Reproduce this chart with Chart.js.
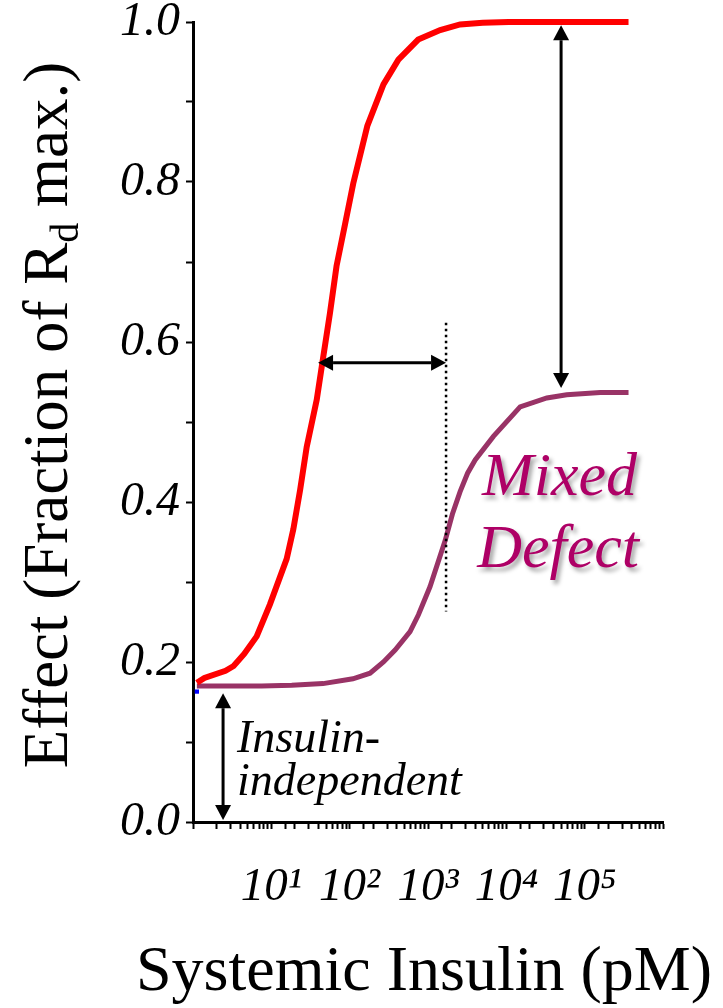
<!DOCTYPE html>
<html lang="en">
<head>
  <meta charset="UTF-8">
  <title>Insulin dose response - mixed defect</title>
  <script src="https://cdn.jsdelivr.net/npm/chart.js"></script>
  <style>
    html, body { margin: 0; padding: 0; background: #fff; }
  </style>
</head>
<body>
  <canvas id="doseChart" width="723" height="1008"></canvas>
  <script>
    // normal insulin action (red)
    const normalInsulin = [1.12, 1.4, 2.6, 3.3, 4.5, 6.5, 9.6, 15.7, 19.1, 23.3, 28.3, 38, 44, 56, 68, 88, 111, 168, 270, 419, 750, 1430, 2570, 5000, 10700, 25000, 60000, 150000, 363000];
    const normalEffect = [0.174, 0.18, 0.189, 0.195, 0.21, 0.232, 0.272, 0.329, 0.366, 0.415, 0.469, 0.528, 0.569, 0.636, 0.695, 0.749, 0.798, 0.87, 0.922, 0.953, 0.978, 0.99, 0.997, 0.999, 1.0, 1.0, 1.0, 1.0, 1.0];

    // mixed defect (purple)
    const mixedInsulin = [1.12, 2.97, 7.5, 18.2, 45.7, 110, 182, 270, 380, 590, 755, 1060, 1660, 2050, 2570, 3200, 4000, 6840, 15000, 32900, 59000, 158000, 363000];
    const mixedEffect = [0.170, 0.170, 0.170, 0.171, 0.173, 0.179, 0.186, 0.200, 0.215, 0.238, 0.259, 0.294, 0.352, 0.385, 0.413, 0.436, 0.4525, 0.482, 0.519, 0.530, 0.534, 0.537, 0.537];

    // small blue marker at the start
    const blueInsulin = [1.12];
    const blueEffect = [0.163];

    const xTickValues = [10, 100, 1000, 10000, 100000];
    const xTickLabels = ['10¹', '10²', '10³', '10⁴', '10⁵'];

    // annotations, in data units
    const shiftArrow = { y: 0.574, x1: 39.5, x2: 1700 };
    const dottedLine = { x: 1700, y1: 0.263, y2: 0.624 };
    const maxArrow = { x: 50000, y1: 0.5425, y2: 0.996 };
    const basalArrow = { x: 2.42, y1: 0.0025, y2: 0.161 };
    const basalText = [
      { text: 'Insulin-', x: 3.65, y: 0.0875 },
      { text: 'independent', x: 3.65, y: 0.034 }
    ];
    const defectText = [
      { text: 'Mixed', x: 4900, y: 0.409 },
      { text: 'Defect', x: 4240, y: 0.319 }
    ];

    const toPoints = (xs, ys) => xs.map((v, i) => ({ x: v, y: ys[i] }));

    function arrowHead(ctx, tipX, tipY, ux, uy, len, half) {
      const bx = tipX - ux * len, by = tipY - uy * len;
      ctx.beginPath();
      ctx.moveTo(tipX, tipY);
      ctx.lineTo(bx - uy * half, by + ux * half);
      ctx.lineTo(bx + uy * half, by - ux * half);
      ctx.closePath();
      ctx.fill();
    }

    function doubleArrow(ctx, x1, y1, x2, y2) {
      const d = Math.hypot(x2 - x1, y2 - y1);
      const ux = (x2 - x1) / d, uy = (y2 - y1) / d;
      const len = 15, half = 8;
      ctx.beginPath();
      ctx.moveTo(x1 + ux * len, y1 + uy * len);
      ctx.lineTo(x2 - ux * len, y2 - uy * len);
      ctx.stroke();
      arrowHead(ctx, x2, y2, ux, uy, len, half);
      arrowHead(ctx, x1, y1, -ux, -uy, len, half);
    }

    const annotations = {
      id: 'annotations',
      afterDraw(chart) {
        const { ctx, chartArea, scales: { x, y } } = chart;
        ctx.save();
        ctx.strokeStyle = '#000';
        ctx.fillStyle = '#000';
        ctx.lineWidth = 3;

        doubleArrow(ctx, x.getPixelForValue(shiftArrow.x1), y.getPixelForValue(shiftArrow.y),
          x.getPixelForValue(shiftArrow.x2), y.getPixelForValue(shiftArrow.y));
        doubleArrow(ctx, x.getPixelForValue(maxArrow.x), y.getPixelForValue(maxArrow.y1),
          x.getPixelForValue(maxArrow.x), y.getPixelForValue(maxArrow.y2));
        doubleArrow(ctx, x.getPixelForValue(basalArrow.x), y.getPixelForValue(basalArrow.y1),
          x.getPixelForValue(basalArrow.x), y.getPixelForValue(basalArrow.y2));

        // dotted line
        ctx.save();
        ctx.lineWidth = 2.5;
        ctx.setLineDash([2.5, 3.5]);
        const dx = x.getPixelForValue(dottedLine.x);
        ctx.beginPath();
        ctx.moveTo(dx, y.getPixelForValue(dottedLine.y2));
        ctx.lineTo(dx, y.getPixelForValue(dottedLine.y1));
        ctx.stroke();
        ctx.restore();

        // insulin-independent label
        ctx.font = 'italic 46px "Liberation Serif"';
        ctx.textAlign = 'left';
        ctx.textBaseline = 'alphabetic';
        basalText.forEach(t => ctx.fillText(t.text, x.getPixelForValue(t.x), y.getPixelForValue(t.y)));

        // mixed defect label
        ctx.save();
        ctx.font = 'italic 62px "Liberation Serif"';
        ctx.fillStyle = '#AE0066';
        ctx.shadowColor = 'rgba(0,0,0,0.35)';
        ctx.shadowOffsetX = 3;
        ctx.shadowOffsetY = 4;
        ctx.shadowBlur = 4;
        defectText.forEach(t => ctx.fillText(t.text, x.getPixelForValue(t.x), y.getPixelForValue(t.y)));
        ctx.restore();

        // x axis title (drawn here so it is not squeezed to the axis width)
        ctx.font = '64px "Liberation Serif"';
        ctx.textAlign = 'center';
        ctx.fillText('Systemic Insulin (pM)', (chartArea.left + chartArea.right) / 2 - 4, 990);

        // y axis title with subscript
        ctx.textAlign = 'left';
        ctx.translate(67, 415);
        ctx.rotate(-Math.PI / 2);
        const mainFont = '63px "Liberation Serif"', subFont = '40px "Liberation Serif"';
        const partA = 'Effect (Fraction of R', partB = 'd', partC = ' max.)';
        ctx.font = mainFont;
        const wA = ctx.measureText(partA).width, wC = ctx.measureText(partC).width;
        ctx.font = subFont;
        const wB = ctx.measureText(partB).width;
        let pos = -(wA + wB + wC) / 2;
        ctx.font = mainFont;
        ctx.fillText(partA, pos, 0);
        pos += wA;
        ctx.font = subFont;
        ctx.fillText(partB, pos, 11);
        pos += wB;
        ctx.font = mainFont;
        ctx.fillText(partC, pos, 0);
        ctx.restore();
      }
    };

    Chart.defaults.font.family = '"Liberation Serif", serif';
    Chart.defaults.color = '#000';

    new Chart(document.getElementById('doseChart'), {
      type: 'line',
      data: {
        datasets: [
          {
            label: 'Normal',
            data: toPoints(normalInsulin, normalEffect),
            borderColor: '#FF0000',
            borderWidth: 6,
            pointRadius: 0,
            tension: 0,
            clip: 8,
            fill: false
          },
          {
            label: 'Mixed defect',
            data: toPoints(mixedInsulin, mixedEffect),
            borderColor: '#993366',
            borderWidth: 5,
            pointRadius: 0,
            tension: 0,
            clip: 8,
            fill: false
          },
          {
            label: 'Start',
            data: toPoints(blueInsulin, blueEffect),
            showLine: false,
            pointStyle: 'rect',
            pointRadius: 3,
            backgroundColor: '#0000FF',
            borderColor: '#0000FF',
            borderWidth: 0,
            clip: 8
          }
        ]
      },
      options: {
        responsive: false,
        animation: false,
        devicePixelRatio: 1,
        layout: { padding: { top: 22, right: 60, left: 0, bottom: 0 } },
        plugins: {
          legend: { display: false },
          tooltip: { enabled: false }
        },
        scales: {
          x: {
            type: 'logarithmic',
            position: 'bottom',
            min: 1,
            max: 1000000,
            border: { color: '#000', width: 3 },
            grid: { drawOnChartArea: false, tickLength: 7, tickWidth: 2, tickColor: '#000' },
            ticks: {
              autoSkip: false,
              maxRotation: 0,
              padding: 30,
              font: { style: 'italic', size: 47 },
              callback: (v) => {
                const i = xTickValues.findIndex(t => Math.abs(t - v) < 1e-6 * t);
                return i >= 0 ? xTickLabels[i] : '';
              }
            },
            title: { display: false },
            afterFit: (s) => { s.height = 186; }
          },
          y: {
            min: 0,
            max: 1,
            border: { color: '#000', width: 3 },
            grid: { drawOnChartArea: false, tickLength: 7, tickWidth: 2, tickColor: '#000' },
            ticks: {
              stepSize: 0.1,
              autoSkip: false,
              padding: 6,
              font: { style: 'italic', size: 48, lineHeight: 0.6 },
              callback: (v) => (Math.round(v * 10) % 2 === 0 ? v.toFixed(1) : '')
            },
            afterFit: (s) => { s.width = 193; }
          }
        }
      },
      plugins: [annotations]
    });
  </script>
</body>
</html>
